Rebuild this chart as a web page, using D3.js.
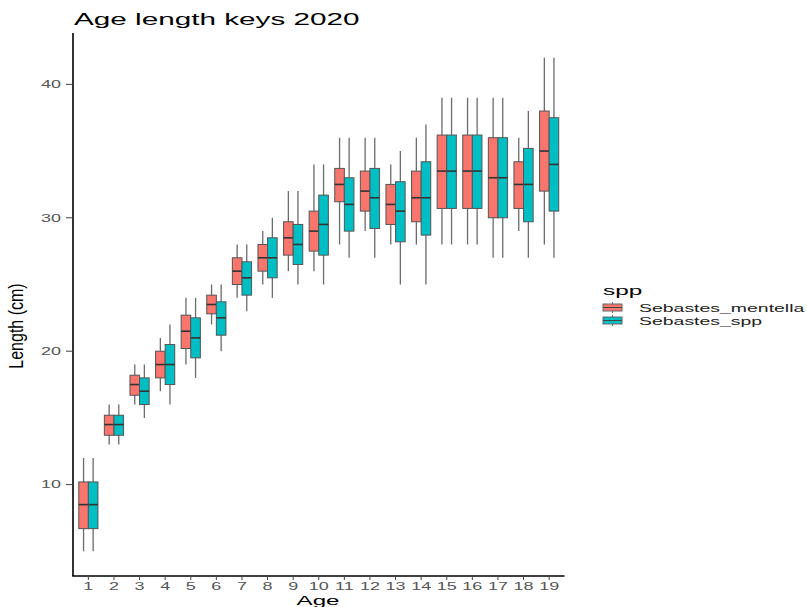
<!DOCTYPE html>
<html>
<head>
<meta charset="utf-8">
<script src="https://cdn.jsdelivr.net/npm/d3@7"></script>
<style>
  body { margin: 0; background: #fff; }
  text { font-family: "Liberation Sans", Arial, sans-serif; }
</style>
</head>
<body>
<svg id="main-svg"></svg>
<script>
// ages on the x axis
let ages = d3.range(1, 20);
// box stats per age: [lower whisker, q1, median, q3, upper whisker]
let mentella = [
  [5, 6.7, 8.5, 10.2, 12], [13, 13.7, 14.5, 15.2, 16], [16, 16.7, 17.5, 18.2, 19],
  [17, 18, 19, 20, 21], [19, 20.2, 21.5, 22.7, 24], [22, 22.8, 23.5, 24.2, 25],
  [24, 25, 26, 27, 28], [25, 26, 27, 28, 29], [26, 27.2, 28.5, 29.7, 32],
  [26, 27.5, 29, 30.5, 34], [28, 31.2, 32.5, 33.7, 36], [29, 30.5, 32, 33.5, 36],
  [28, 29.5, 31, 32.5, 34], [28, 29.7, 31.5, 33.5, 36], [28, 30.7, 33.5, 36.2, 39],
  [28, 30.7, 33.5, 36.2, 39], [27, 30, 33, 36, 39], [29, 30.7, 32.5, 34.2, 36],
  [28, 32, 35, 38, 42]
];
let sebSpp = [
  [5, 6.7, 8.5, 10.2, 12], [13, 13.7, 14.5, 15.2, 16], [15, 16, 17, 18, 19],
  [16, 17.5, 19, 20.5, 22], [18, 19.5, 21, 22.5, 24], [20, 21.2, 22.5, 23.7, 25],
  [23, 24.2, 25.5, 26.7, 28], [24, 25.5, 27, 28.5, 30], [25, 26.5, 28, 29.5, 32],
  [25, 27.2, 29.5, 31.7, 34], [27, 29, 31, 33, 36], [27, 29.2, 31.5, 33.7, 36],
  [25, 28.2, 30.5, 32.7, 35], [25, 28.7, 31.5, 34.2, 37], [28, 30.7, 33.5, 36.2, 39],
  [28, 30.7, 33.5, 36.2, 39], [27, 30, 33, 36, 39], [27, 29.7, 32.5, 35.2, 38],
  [27, 30.5, 34, 37.5, 42]
];
let seriesNames = ['Sebastes_mentella', 'Sebastes_spp'];
let seriesColors = ['#F8766D', '#00BFC4'];
let yTicks = [10, 20, 30, 40];

let width = 807;
let height = 607;
let SX = 1.8; // picture is stretched sideways, so is its text

let svg = d3.select('#main-svg')
  .attr('width', width)
  .attr('height', height);

let x = d3.scaleLinear().domain([0.4, 19.6]).range([73, 564.5]);
let y = d3.scaleLinear().domain([3.15, 43.85]).range([576, 33]);

function label(root, px, py, str, size, anchor, fill, rot) {
  return root.append('text')
    .attr('transform', `translate(${px},${py}) scale(${rot ? 1.3 : SX},1)` + (rot ? ' rotate(-90)' : ''))
    .attr('text-anchor', anchor)
    .attr('font-size', size)
    .attr('fill', fill)
    .text(str);
}

// boxes, dodged
let dodge = 0.1875;
let halfW = 0.1875;
let groups = [mentella, sebSpp];
groups.forEach((stats, si) => {
  let g = svg.append('g');
  let offset = si === 0 ? -dodge : dodge;
  let boxes = g.selectAll('g.box').data(stats).join('g').attr('class', 'box');
  boxes.append('line')
    .attr('x1', (d, i) => x(ages[i] + offset)).attr('x2', (d, i) => x(ages[i] + offset))
    .attr('y1', d => y(d[0])).attr('y2', d => y(d[4]))
    .style('stroke', '#6b6b6b').style('stroke-width', 1.3);
  boxes.append('rect')
    .attr('x', (d, i) => x(ages[i] + offset - halfW))
    .attr('width', (d, i) => x(ages[i] + offset + halfW) - x(ages[i] + offset - halfW))
    .attr('y', d => y(d[3]))
    .attr('height', d => y(d[1]) - y(d[3]))
    .style('fill', seriesColors[si])
    .style('stroke', '#555').style('stroke-width', 1);
  boxes.append('line')
    .attr('x1', (d, i) => x(ages[i] + offset - halfW)).attr('x2', (d, i) => x(ages[i] + offset + halfW))
    .attr('y1', d => y(d[2])).attr('y2', d => y(d[2]))
    .style('stroke', '#333').style('stroke-width', 1.6);
});

// axes
let axisG = svg.append('g');
axisG.append('line').attr('x1', 73).attr('x2', 73).attr('y1', 33).attr('y2', 576)
  .style('stroke', '#000').style('stroke-width', 1.6);
axisG.append('line').attr('x1', 72.2).attr('x2', 564.5).attr('y1', 576).attr('y2', 576)
  .style('stroke', '#000').style('stroke-width', 1.6);

yTicks.forEach(t => {
  axisG.append('line').attr('x1', 66).attr('x2', 73).attr('y1', y(t)).attr('y2', y(t))
    .style('stroke', '#444').style('stroke-width', 1);
  label(axisG, 61, y(t) + 3.8, t, 10, 'end', '#555');
});
ages.forEach(a => {
  axisG.append('line').attr('x1', x(a)).attr('x2', x(a)).attr('y1', 576).attr('y2', 580)
    .style('stroke', '#444').style('stroke-width', 1);
  label(axisG, x(a), 589.5, a, 10, 'middle', '#555');
});

// titles
label(svg, 74, 25, 'Age length keys 2020', 16.5, 'start', '#000');
label(svg, 318, 605, 'Age', 13.4, 'middle', '#000');
label(svg, 23, 326, 'Length (cm)', 16, 'middle', '#000', true);

// legend
let leg = svg.append('g');
label(leg, 603, 295, 'spp', 13.5, 'start', '#000');
seriesNames.forEach((name, i) => {
  let cy = 307.5 + i * 13;
  leg.append('line').attr('x1', 612.5).attr('x2', 612.5).attr('y1', cy - 5.5).attr('y2', cy + 5.5)
    .style('stroke', '#6b6b6b').style('stroke-width', 1);
  leg.append('rect').attr('x', 603).attr('y', cy - 3.5).attr('width', 19).attr('height', 7)
    .style('fill', seriesColors[i]).style('stroke', '#666').style('stroke-width', 1);
  leg.append('line').attr('x1', 603).attr('x2', 622).attr('y1', cy).attr('y2', cy)
    .style('stroke', '#444').style('stroke-width', 1);
  label(leg, 639, cy + 4, name, 10.8, 'start', '#222');
});
</script>
</body>
</html>
